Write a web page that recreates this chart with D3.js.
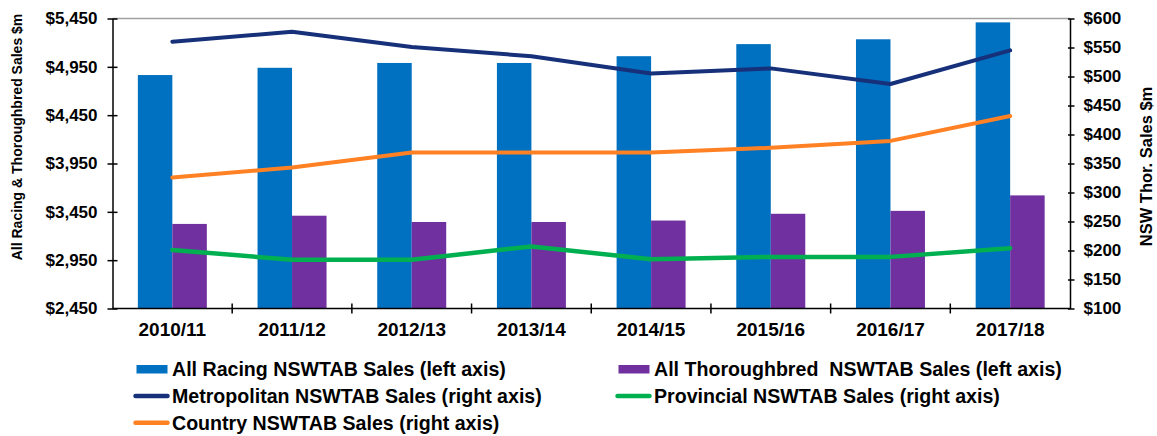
<!DOCTYPE html>
<html>
<head>
<meta charset="utf-8">
<script src="https://cdn.jsdelivr.net/npm/d3@7"></script>
<style>
  body { margin: 0; background: #fff; }
  text { font-family: "Liberation Sans", Arial, sans-serif; font-weight: bold; fill: #000; }
</style>
</head>
<body>
<div id="chart"></div>
<script>
// data ($m)
var seasons = ["2010/11", "2011/12", "2012/13", "2013/14", "2014/15", "2015/16", "2016/17", "2017/18"];
var allRacing = [4865, 4940, 4990, 4990, 5060, 5185, 5235, 5410];
var thoroughbred = [3325, 3410, 3345, 3345, 3360, 3430, 3460, 3620];
var metro = [560, 577, 551, 535, 505, 514, 487, 545];
var country = [326, 343, 369, 369, 369, 377, 389, 432];
var provincial = [201, 184, 184, 207, 185, 189, 189, 204];

var leftTicks = [2450, 2950, 3450, 3950, 4450, 4950, 5450];
var rightTicks = [100, 150, 200, 250, 300, 350, 400, 450, 500, 550, 600];

//svg base
var svgwdth = 1157;
var svghght = 436;
var margin = {top: 18.5, right: 87, bottom: 127.5, left: 112.5};
var width = svgwdth - margin.left - margin.right;
var height = svghght - margin.top - margin.bottom;

var svg = d3.select("#chart")
  .append("svg")
  .attr("width", svgwdth)
  .attr("height", svghght);

var chartGroup = svg.append("g").attr("transform", `translate(${margin.left}, ${margin.top})`);

//scales
var xBand = d3.scaleBand().domain(seasons).range([0, width]).padding(0);
var xSub = d3.scaleBand().domain(["all", "thor"]).range([0, xBand.bandwidth()])
  .paddingInner(0).paddingOuter(0.735);
var yLeft = d3.scaleLinear().domain([2450, 5450]).range([height, 0]);
var yRight = d3.scaleLinear().domain([100, 600]).range([height, 0]);

//top border of plot area
chartGroup.append("line")
  .attr("x1", 0).attr("x2", width)
  .attr("y1", 0).attr("y2", 0)
  .attr("stroke", "#a0a0a0")
  .attr("stroke-width", 1.5);

//bars
var barData = seasons.map((s, i) => [
  {season: s, key: "all", value: allRacing[i]},
  {season: s, key: "thor", value: thoroughbred[i]}
]);
var barColor = {all: "#0070c0", thor: "#7030a0"};

chartGroup.selectAll("g.season")
  .data(barData)
  .enter()
  .append("g")
  .attr("class", "season")
  .attr("transform", d => `translate(${xBand(d[0].season)},0)`)
  .selectAll("rect")
  .data(d => d)
  .enter()
  .append("rect")
  .attr("x", d => xSub(d.key))
  .attr("width", xSub.bandwidth())
  .attr("y", d => yLeft(d.value))
  .attr("height", d => height - yLeft(d.value))
  .attr("fill", d => barColor[d.key]);

//lines on right axis
var lineGen = d3.line()
  .x((d, i) => xBand(seasons[i]) + xBand.bandwidth() / 2)
  .y(d => yRight(d));

var lineSeries = [
  {values: country, color: "#ff8124", w: 4},
  {values: provincial, color: "#00b050", w: 4.5},
  {values: metro, color: "#17307a", w: 4}
];

lineSeries.forEach(s => {
  chartGroup.append("path")
    .datum(s.values)
    .attr("d", lineGen)
    .attr("fill", "none")
    .attr("stroke", s.color)
    .attr("stroke-width", s.w)
    .attr("stroke-linejoin", "round")
    .attr("stroke-linecap", "round");
});

//axes
var leftAxis = d3.axisLeft(yLeft).tickValues(leftTicks)
  .tickFormat(d => "$" + d3.format(",")(d))
  .tickSizeInner(-5).tickSizeOuter(0).tickPadding(0);
var rightAxis = d3.axisRight(yRight).tickValues(rightTicks)
  .tickFormat(d => "$" + d)
  .tickSizeInner(-5).tickSizeOuter(0).tickPadding(0);

var gLeft = chartGroup.append("g").call(leftAxis);
var gRight = chartGroup.append("g").attr("transform", `translate(${width},0)`).call(rightAxis);

[gLeft, gRight].forEach(g => {
  g.select(".domain").attr("stroke", "#000").attr("stroke-width", 1.5);
  g.selectAll(".tick line").attr("stroke", "#000").attr("stroke-width", 1.5);
  g.selectAll(".tick text").attr("font-size", 17).attr("font-family", null).attr("fill", "#000");
});
// ticks cross the axis line
gLeft.selectAll(".tick line").attr("x1", -5).attr("x2", 5);
gLeft.selectAll(".tick text").attr("x", -15);
gRight.selectAll(".tick line").attr("x1", -2).attr("x2", 4.5);
gRight.selectAll(".tick text").attr("x", 13.5);

//bottom axis with ticks at category boundaries
var xAxis = chartGroup.append("g").attr("transform", `translate(0, ${height})`);
xAxis.append("line")
  .attr("x1", 0).attr("x2", width)
  .attr("stroke", "#000").attr("stroke-width", 1.5);
xAxis.selectAll("line.tk")
  .data(seasons.slice(1))
  .enter()
  .append("line")
  .attr("class", "tk")
  .attr("x1", d => xBand(d)).attr("x2", d => xBand(d))
  .attr("y1", -5).attr("y2", 5)
  .attr("stroke", "#000").attr("stroke-width", 1.5);
xAxis.selectAll("text")
  .data(seasons)
  .enter()
  .append("text")
  .attr("x", d => xBand(d) + xBand.bandwidth() / 2)
  .attr("y", 27.5)
  .attr("text-anchor", "middle")
  .attr("font-size", 19)
  .text(d => d);

//axis titles
svg.append("text")
  .attr("transform", "translate(22, 137) rotate(-90)")
  .attr("text-anchor", "middle")
  .attr("font-size", 14)
  .text("All Racing & Thoroughbred Sales $m");

svg.append("text")
  .attr("transform", "translate(1152, 166.5) rotate(-90)")
  .attr("text-anchor", "middle")
  .attr("font-size", 16.5)
  .text("NSW Thor. Sales $m");

//legend
var legendItems = [
  {label: "All Racing NSWTAB Sales (left axis)", color: "#0070c0", type: "bar", col: 0, row: 0},
  {label: "All Thoroughbred  NSWTAB Sales (left axis)", color: "#7030a0", type: "bar", col: 1, row: 0},
  {label: "Metropolitan NSWTAB Sales (right axis)", color: "#17307a", type: "line", col: 0, row: 1},
  {label: "Provincial NSWTAB Sales (right axis)", color: "#00b050", type: "line", col: 1, row: 1},
  {label: "Country NSWTAB Sales (right axis)", color: "#ff8124", type: "line", col: 0, row: 2}
];
var colX = [136.5, 618.5];
var rowY = [369, 396, 422.7];

var legend = svg.append("g");
var items = legend.selectAll("g")
  .data(legendItems)
  .enter()
  .append("g")
  .attr("transform", d => `translate(${colX[d.col]}, ${rowY[d.row]})`);

items.filter(d => d.type === "bar")
  .append("rect")
  .attr("x", 0).attr("y", -4)
  .attr("width", 31).attr("height", 8.5)
  .attr("fill", d => d.color);

items.filter(d => d.type === "line")
  .append("line")
  .attr("x1", -1).attr("x2", 31)
  .attr("y1", 0).attr("y2", 0)
  .attr("stroke", d => d.color)
  .attr("stroke-width", 4.5)
  .attr("stroke-linecap", "round");

items.append("text")
  .attr("x", 35.5)
  .attr("y", 6.8)
  .attr("font-size", 19.6)
  .style("white-space", "pre")
  .text(d => d.label);
</script>
</body>
</html>
